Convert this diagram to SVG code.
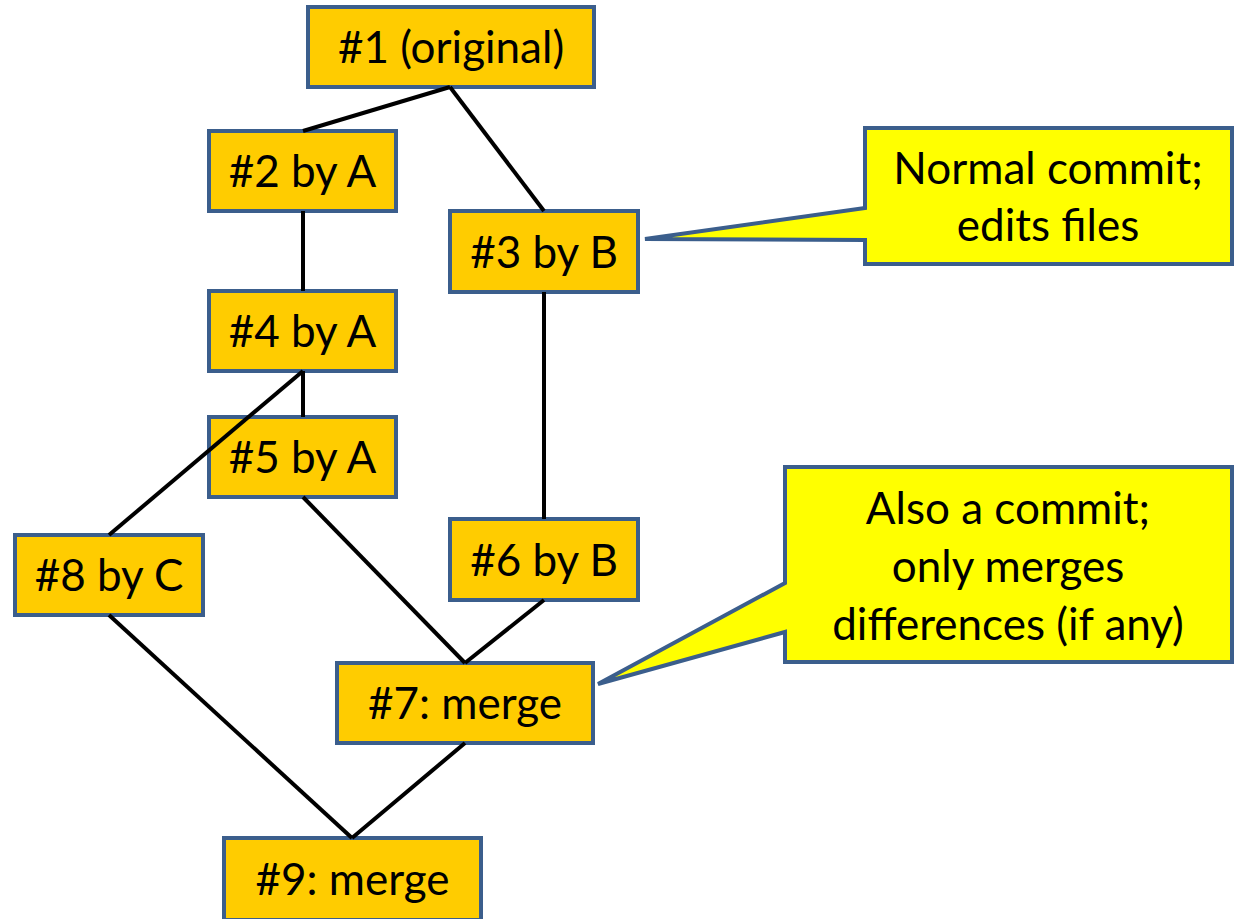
<svg xmlns="http://www.w3.org/2000/svg" width="1235" height="919" viewBox="0 0 1235 919">
<style>
.node rect{fill:#FFCC00;stroke:#3B5E8C;stroke-width:4}
.callout path{fill:#FFFF00;stroke:#3B5E8C;stroke-width:4;stroke-linejoin:miter}
text{font-family:Lato,"Open Sans",sans-serif;font-size:44px;fill:#000;text-anchor:middle}
#edges line{stroke:#000;stroke-width:4}
</style>
<rect width="1235" height="919" fill="#fff"/>
<g id="n1" class="node"><rect x="308" y="7" width="286" height="80"/><text x="451" y="63">#1 (original)</text></g>
<g id="n2" class="node"><rect x="209" y="131" width="187" height="80"/><text x="302.5" y="187">#2 by A</text></g>
<g id="n3" class="node"><rect x="450" y="211" width="188" height="81"/><text x="544" y="268">#3 by B</text></g>
<g id="n4" class="node"><rect x="209" y="291" width="187" height="80"/><text x="302.5" y="347">#4 by A</text></g>
<g id="n5" class="node"><rect x="209" y="417" width="187" height="80"/><text x="302.5" y="473">#5 by A</text></g>
<g id="n6" class="node"><rect x="450" y="519" width="188" height="81"/><text x="544" y="576">#6 by B</text></g>
<g id="n7" class="node"><rect x="337" y="663" width="256" height="80"/><text x="465" y="719">#7: merge</text></g>
<g id="n8" class="node"><rect x="15" y="535" width="188" height="80"/><text x="109" y="591">#8 by C</text></g>
<g id="n9" class="node"><rect x="224" y="838" width="257" height="82"/><text x="352.5" y="895">#9: merge</text></g>
<g id="edges">
<line x1="450" y1="87" x2="303" y2="131"/>
<line x1="450" y1="87" x2="544" y2="211"/>
<line x1="303" y1="211" x2="303" y2="291"/>
<line x1="303" y1="371" x2="303" y2="417"/>
<line x1="303" y1="371" x2="109" y2="535"/>
<line x1="544" y1="292" x2="544" y2="519"/>
<line x1="303" y1="497" x2="465" y2="663"/>
<line x1="544" y1="600" x2="465" y2="663"/>
<line x1="109" y1="615" x2="352" y2="838"/>
<line x1="465" y1="743" x2="352" y2="838"/>
</g>
<g id="c1" class="callout"><path d="M865,128 H1232 V264 H865 V240 L645,239 L865,208 Z"/><text x="1048" y="184">Normal commit;</text><text x="1048" y="241">edits files</text></g>
<g id="c2" class="callout"><path d="M785,467 H1232 V662 H785 V632 L598,684 L785,583 Z"/><text x="1008" y="524">Also a commit;</text><text x="1008" y="582">only merges</text><text x="1008" y="640">differences (if any)</text></g>
</svg>
